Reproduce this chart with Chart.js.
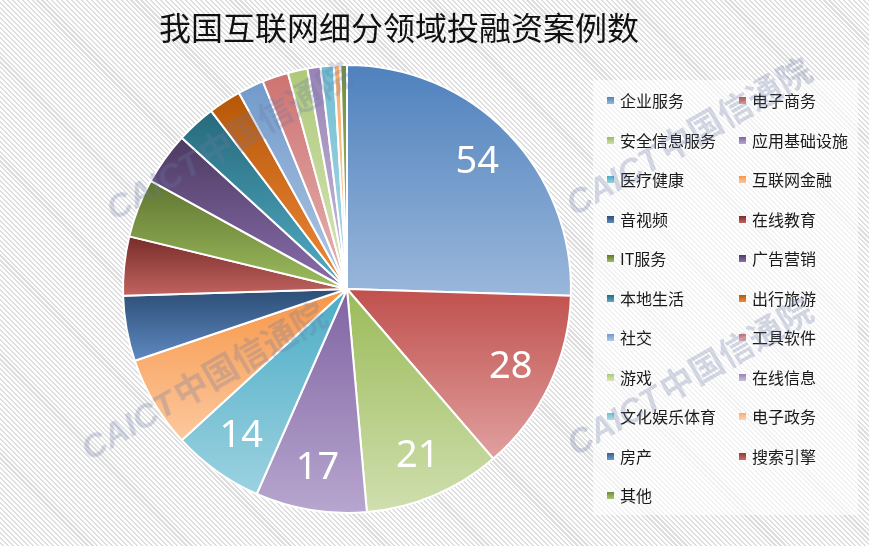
<!DOCTYPE html>
<html>
<head>
<meta charset="utf-8">
<script src="https://cdn.jsdelivr.net/npm/chart.js@4.4.1/dist/chart.umd.min.js"></script>
<style>
  html, body { margin: 0; padding: 0; }
  body {
    width: 869px; height: 546px; position: relative; overflow: hidden;
    background: repeating-linear-gradient(45deg, #ffffff 0px, #ffffff 2px, #dedede 2px, #dedede 3.5px);
    font-family: "Noto Sans CJK SC", sans-serif;
  }
  #chartCanvas { position: absolute; left: 0; top: 0; }
  #title {
    position: absolute; left: 159px; top: 6px;
    font-size: 32px; line-height: 40px; color: #111; white-space: nowrap;
  }
  #legend {
    position: absolute; left: 593px; top: 80px; width: 265px; height: 435px;
    background: rgba(255, 255, 255, 0.6);
  }
  .item { position: absolute; height: 20px; line-height: 20px; font-size: 16px; color: #1a1a1a; white-space: nowrap; }
  .swatch { position: absolute; top: 7px; width: 7px; height: 7px; }
  .item span.txt { position: absolute; top: 0; }
  .wm {
    position: absolute; height: 40px; line-height: 40px; white-space: nowrap;
    transform-origin: 0 50%; transform: rotate(-30deg);
    color: rgba(105, 118, 160, 0.28); font-weight: bold; pointer-events: none;
  }
  .wm .en { font: italic bold 34px "Liberation Sans", sans-serif; }
  .wm .cn { font: bold 34px "Noto Sans CJK SC", sans-serif; }
</style>
</head>
<body>
<canvas id="chartCanvas" width="869" height="546"></canvas>
<div id="title">我国互联网细分领域投融资案例数</div>
<div id="legend"></div>
<div class="wm" style="left:105px; top:185px;"><span class="en">CAICT</span> <span class="cn">中国信通院</span></div>
<div class="wm" style="left:565px; top:180px;"><span class="en">CAICT</span> <span class="cn">中国信通院</span></div>
<div class="wm" style="left:80px; top:425px;"><span class="en">CAICT</span> <span class="cn">中国信通院</span></div>
<div class="wm" style="left:566px; top:420px;"><span class="en">CAICT</span> <span class="cn">中国信通院</span></div>
<script>
// --- data ---
const sectors = [
  "企业服务", "电子商务", "安全信息服务", "应用基础设施", "医疗健康", "互联网金融",
  "音视频", "在线教育", "IT服务", "广告营销", "本地生活", "出行旅游",
  "社交", "工具软件", "游戏", "在线信息", "文化娱乐体育", "电子政务",
  "房产", "搜索引擎", "其他"
];
const caseCounts = [54, 28, 21, 17, 14, 14, 10, 9, 9, 8, 6, 5, 4, 4, 3, 2, 2, 1, 0, 0, 1];

// top / bottom gradient colours per slice (Excel style)
const topColors = [
  "#4F81BD", "#C0504D", "#9BBB59", "#8064A2", "#4BACC6", "#F79646",
  "#2C4D75", "#772C2A", "#5F7530", "#4D3B62", "#276A7C", "#B65708",
  "#729ACA", "#CD7371", "#AFC97A", "#9983B5", "#6FBDD1", "#F9AB6B",
  "#3A5F8F", "#8F3B39", "#728C3F"
];
const bottomColors = [
  "#9AB7DB", "#E0A09F", "#CFDFAE", "#B7A6CF", "#9CD2E0", "#FCC89F",
  "#5E89C0", "#C26360", "#9DBD5E", "#8A6EAD", "#52ADC6", "#F0893A",
  "#B1C8E4", "#E7B4B3", "#D8E6BC", "#CAC0DA", "#B3DDE8", "#FDD4B4",
  "#6F98CC", "#C96F6D", "#A9C66F"
];

const PIE_RADIUS = 224;
const total = caseCounts.reduce((a, b) => a + b, 0);

// --- vertical gradient over each slice's own height ---
function sliceGradient(context) {
  const i = context.dataIndex;
  const chart = context.chart;
  const area = chart.chartArea;
  if (!area || context.type !== "data") return topColors[i];

  const cx = (area.left + area.right) / 2;
  const cy = (area.top + area.bottom) / 2;
  const before = caseCounts.slice(0, i).reduce((a, b) => a + b, 0);
  const a0 = before / total * Math.PI * 2;
  const a1 = (before + caseCounts[i]) / total * Math.PI * 2;

  const ys = [cy, cy - PIE_RADIUS * Math.cos(a0), cy - PIE_RADIUS * Math.cos(a1)];
  if (a0 <= Math.PI && a1 >= Math.PI) ys.push(cy + PIE_RADIUS);
  const minY = Math.min(...ys);
  const maxY = Math.max(...ys, minY + 1);

  const g = chart.ctx.createLinearGradient(0, minY, 0, maxY);
  g.addColorStop(0, topColors[i]);
  g.addColorStop(1, bottomColors[i]);
  return g;
}

// value labels on the five biggest slices
const sliceLabels = {
  id: "sliceLabels",
  afterDatasetsDraw(chart) {
    const ctx = chart.ctx;
    const meta = chart.getDatasetMeta(0);
    ctx.save();
    ctx.fillStyle = "#fff";
    ctx.font = '38px "Noto Sans", sans-serif';
    ctx.textAlign = "center";
    ctx.textBaseline = "middle";
    meta.data.forEach((arc, i) => {
      if (i >= 5) return;
      const { x, y, startAngle, endAngle, outerRadius } =
        arc.getProps(["x", "y", "startAngle", "endAngle", "outerRadius"], true);
      const mid = (startAngle + endAngle) / 2;
      const d = outerRadius * 0.81;
      ctx.fillText(String(caseCounts[i]), x + Math.cos(mid) * d, y + Math.sin(mid) * d);
    });
    ctx.restore();
  }
};

const chart = new Chart(document.getElementById("chartCanvas"), {
  type: "pie",
  data: {
    labels: sectors,
    datasets: [{
      data: caseCounts,
      backgroundColor: sliceGradient,
      borderColor: "#ffffff",
      borderWidth: 2
    }]
  },
  options: {
    responsive: false,
    animation: false,
    radius: PIE_RADIUS,
    layout: { padding: { left: 100, right: 275, top: 60, bottom: 28 } },
    plugins: {
      legend: { display: false },
      tooltip: { enabled: false }
    }
  },
  plugins: [sliceLabels]
});

// --- legend, two columns, row by row ---
const legendBox = document.getElementById("legend");
sectors.forEach((name, i) => {
  const row = Math.floor(i / 2);
  const col = i % 2;
  const item = document.createElement("div");
  item.className = "item";
  item.style.top = (10 + row * 39.5) + "px";
  item.style.left = "0px";
  const sw = document.createElement("div");
  sw.className = "swatch";
  sw.style.left = (col === 0 ? 14 : 146) + "px";
  sw.style.background = `linear-gradient(${topColors[i]}, ${bottomColors[i]})`;
  const txt = document.createElement("span");
  txt.className = "txt";
  txt.style.left = (col === 0 ? 27 : 159) + "px";
  txt.textContent = name;
  item.appendChild(sw);
  item.appendChild(txt);
  legendBox.appendChild(item);
});
</script>
</body>
</html>
